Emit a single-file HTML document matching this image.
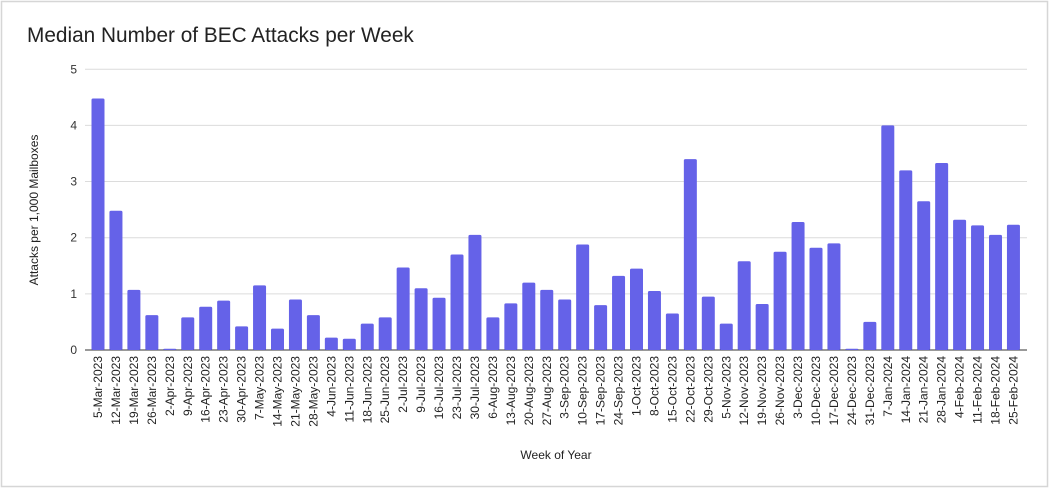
<!DOCTYPE html>
<html><head><meta charset="utf-8"><style>
html,body{margin:0;padding:0;background:#fff;}
svg{display:block;font-family:"Liberation Sans",Arial,sans-serif;}
</style></head><body>
<svg id="c" width="1050" height="489" viewBox="0 0 1050 489" xmlns="http://www.w3.org/2000/svg">
<rect x="1.5" y="1.5" width="1046" height="485" fill="#fff" stroke="#d6d6d6" stroke-width="1.5"/>
<text x="27" y="42" font-size="20.8" fill="#222">Median Number of BEC Attacks per Week</text>
<text transform="translate(38,210) rotate(-90)" text-anchor="middle" font-size="12" fill="#222">Attacks per 1,000 Mailboxes</text>
<text x="556" y="459" text-anchor="middle" font-size="12" fill="#222">Week of Year</text>
<g id="g"></g>
</svg>
<script>
var vals=[4.48,2.48,1.07,0.62,0.02,0.58,0.77,0.88,0.42,1.15,0.38,0.9,0.62,0.22,0.2,0.47,0.58,1.47,1.1,0.93,1.7,2.05,0.58,0.83,1.2,1.07,0.9,1.88,0.8,1.32,1.45,1.05,0.65,3.4,0.95,0.47,1.58,0.82,1.75,2.28,1.82,1.9,0.02,0.5,4.0,3.2,2.65,3.33,2.32,2.22,2.05,2.23];
var months=["Jan","Feb","Mar","Apr","May","Jun","Jul","Aug","Sep","Oct","Nov","Dec"];
var d=new Date(Date.UTC(2023,2,5));
var g=document.getElementById('g'),h='';
var y0=350,u=56.15;
for(var i=0;i<=5;i++){var y=y0-i*u;h+='<line x1="85" x2="1027" y1="'+y+'" y2="'+y+'" stroke="'+(i==0?'#333':'#dcdcdc')+'" stroke-width="1"/>';
h+='<text x="77" y="'+(y+4)+'" text-anchor="end" font-size="12" fill="#333">'+i+'</text>';}
for(var i=0;i<52;i++){var cx=98+i*17.95;var bh=Math.max(vals[i]*u,1.2);
h+='<rect x="'+(cx-6.5)+'" y="'+(y0-bh)+'" width="13" height="'+bh+'" rx="1.5" fill="#6562e8"/>';
var lab=d.getUTCDate()+'-'+months[d.getUTCMonth()]+'-'+d.getUTCFullYear();
h+='<text transform="translate('+(cx+4)+',356) rotate(-90)" text-anchor="end" font-size="12" fill="#222">'+lab+'</text>';
d=new Date(d.getTime()+7*864e5);}
g.innerHTML=h;
</script>
</body></html>
